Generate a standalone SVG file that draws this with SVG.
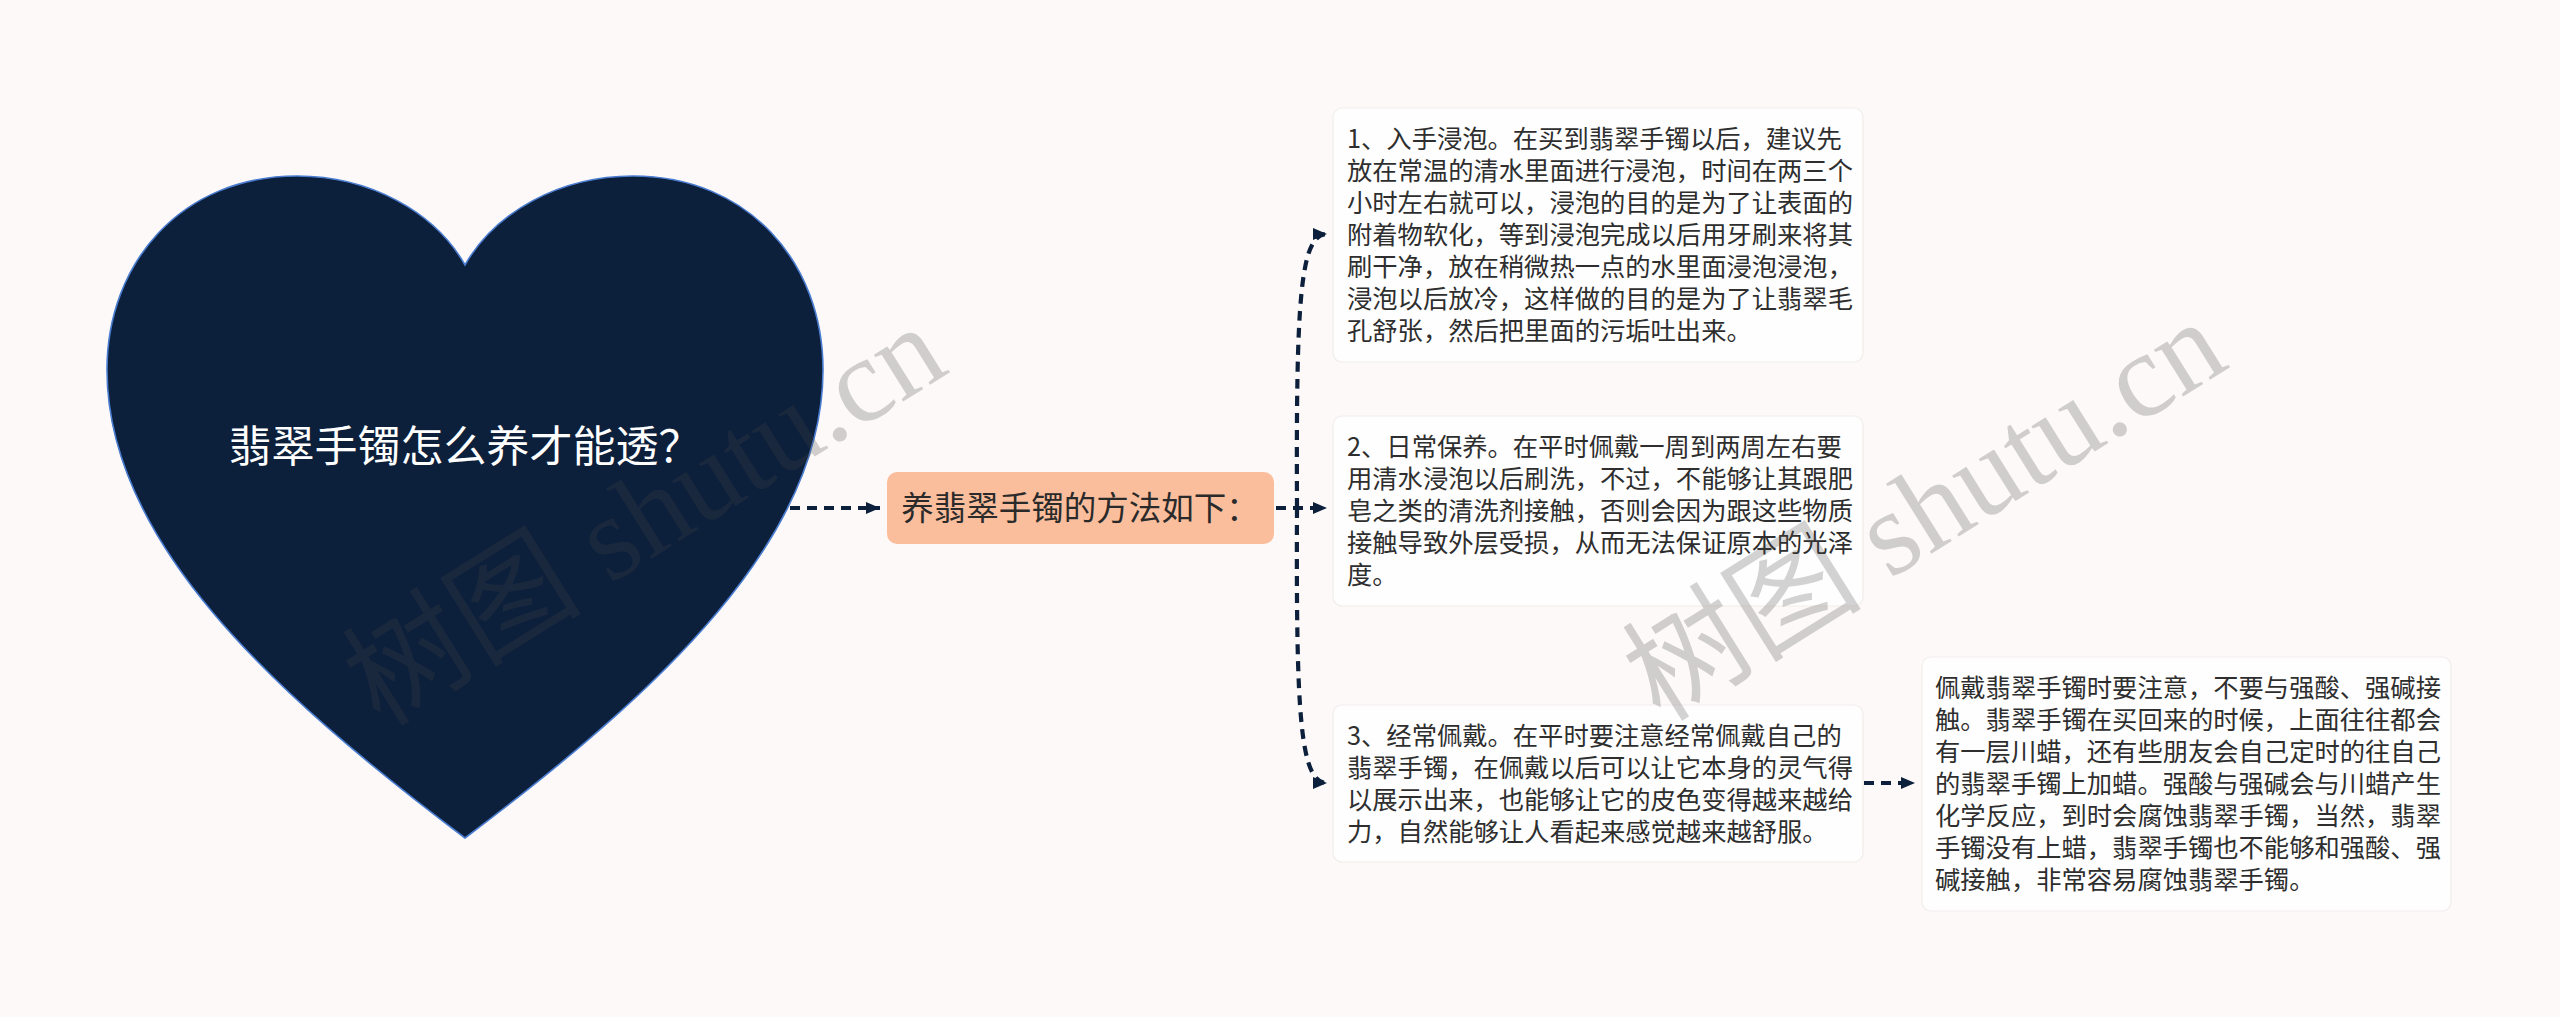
<svg xmlns="http://www.w3.org/2000/svg" width="2560" height="1017" viewBox="0 0 2560 1017">
<style>
.bg{fill:#fcf9f8}
.heart{fill:#0c1f3b;stroke:#4a7cd0;stroke-width:1.6}
.htxt{font-family:"Noto Sans CJK SC","Noto Sans",sans-serif;font-size:43px;fill:#ffffff}
.mid{fill:#fbbe9d}
.mtxt{font-family:"Noto Sans CJK SC","Noto Sans",sans-serif;font-size:32.5px;fill:#2a2a2a}
.box{fill:#fefefe;stroke:#f1edec;stroke-width:1.2}
.t{font-family:"Noto Sans CJK SC","Noto Sans",sans-serif;font-size:25.3px;fill:#2e2e2e}
.c{fill:none;stroke:#0c1f3b;stroke-width:4.2;stroke-dasharray:10 7}
.wm{font-family:"Liberation Serif","Noto Sans CJK SC",serif;font-size:120px;fill:#484848;fill-opacity:0.24}
</style>
<defs>
<marker id="ar" markerUnits="userSpaceOnUse" markerWidth="15" markerHeight="15" refX="14" refY="7.5" orient="auto">
<path d="M0,1.5 L14,7.5 L0,13.5 Z" fill="#0c1f3b"/>
</marker>
</defs>
<rect class="bg" x="0" y="0" width="2560" height="1017"/>
<g id="connectors">
<path class="c" d="M790,508 L880,508" marker-end="url(#ar)"/>
<path class="c" d="M1276,508 L1327,508" marker-end="url(#ar)"/>
<path class="c" d="M1297,508 C1296,300 1300,234 1327,234" marker-end="url(#ar)"/>
<path class="c" d="M1297,508 C1296,715 1300,783 1327,783" marker-end="url(#ar)"/>
<path class="c" d="M1864,783 L1915,783" marker-end="url(#ar)"/>
</g>
<g id="root">
<path class="heart" d="M465,265 C495,212 560,176 633,176 C748,176 823,262 823,370 C823,540 659,692 465,838 C271,692 107,540 107,370 C107,262 182,176 297,176 C370,176 435,212 465,265 Z"/>
<text class="htxt" x="465" y="462" text-anchor="middle">翡翠手镯怎么养才能透？</text>
</g>
<g id="main">
<rect class="mid" x="887" y="472" width="387" height="72" rx="10"/>
<text class="mtxt" x="1080" y="520" text-anchor="middle">养翡翠手镯的方法如下：</text>
</g>
<g id="n1">
<rect class="box" x="1333" y="108" width="530" height="254" rx="9"/>
<text class="t" x="1347" y="148">
<tspan x="1347" dy="0">1、入手浸泡。在买到翡翠手镯以后，建议先</tspan>
<tspan x="1347" dy="32">放在常温的清水里面进行浸泡，时间在两三个</tspan>
<tspan x="1347" dy="32">小时左右就可以，浸泡的目的是为了让表面的</tspan>
<tspan x="1347" dy="32">附着物软化，等到浸泡完成以后用牙刷来将其</tspan>
<tspan x="1347" dy="32">刷干净，放在稍微热一点的水里面浸泡浸泡，</tspan>
<tspan x="1347" dy="32">浸泡以后放冷，这样做的目的是为了让翡翠毛</tspan>
<tspan x="1347" dy="32">孔舒张，然后把里面的污垢吐出来。</tspan>
</text>
</g>
<g id="n2">
<rect class="box" x="1333" y="416" width="530" height="190" rx="9"/>
<text class="t" x="1347" y="456">
<tspan x="1347" dy="0">2、日常保养。在平时佩戴一周到两周左右要</tspan>
<tspan x="1347" dy="32">用清水浸泡以后刷洗，不过，不能够让其跟肥</tspan>
<tspan x="1347" dy="32">皂之类的清洗剂接触，否则会因为跟这些物质</tspan>
<tspan x="1347" dy="32">接触导致外层受损，从而无法保证原本的光泽</tspan>
<tspan x="1347" dy="32">度。</tspan>
</text>
</g>
<g id="n3">
<rect class="box" x="1333" y="705" width="530" height="157" rx="9"/>
<text class="t" x="1347" y="745">
<tspan x="1347" dy="0">3、经常佩戴。在平时要注意经常佩戴自己的</tspan>
<tspan x="1347" dy="32">翡翠手镯，在佩戴以后可以让它本身的灵气得</tspan>
<tspan x="1347" dy="32">以展示出来，也能够让它的皮色变得越来越给</tspan>
<tspan x="1347" dy="32">力，自然能够让人看起来感觉越来越舒服。</tspan>
</text>
</g>
<g id="n4">
<rect class="box" x="1922" y="657" width="529" height="254" rx="9"/>
<text class="t" x="1935" y="697">
<tspan x="1935" dy="0">佩戴翡翠手镯时要注意，不要与强酸、强碱接</tspan>
<tspan x="1935" dy="32">触。翡翠手镯在买回来的时候，上面往往都会</tspan>
<tspan x="1935" dy="32">有一层川蜡，还有些朋友会自己定时的往自己</tspan>
<tspan x="1935" dy="32">的翡翠手镯上加蜡。强酸与强碱会与川蜡产生</tspan>
<tspan x="1935" dy="32">化学反应，到时会腐蚀翡翠手镯，当然，翡翠</tspan>
<tspan x="1935" dy="32">手镯没有上蜡，翡翠手镯也不能够和强酸、强</tspan>
<tspan x="1935" dy="32">碱接触，非常容易腐蚀翡翠手镯。</tspan>
</text>
</g>
<g id="watermark">
<text class="wm" x="647" y="555" text-anchor="middle" transform="rotate(-32 647 519)">树图 shutu.cn</text>
<text class="wm" x="1927" y="550" text-anchor="middle" transform="rotate(-32 1927 514)">树图 shutu.cn</text>
</g>
</svg>
